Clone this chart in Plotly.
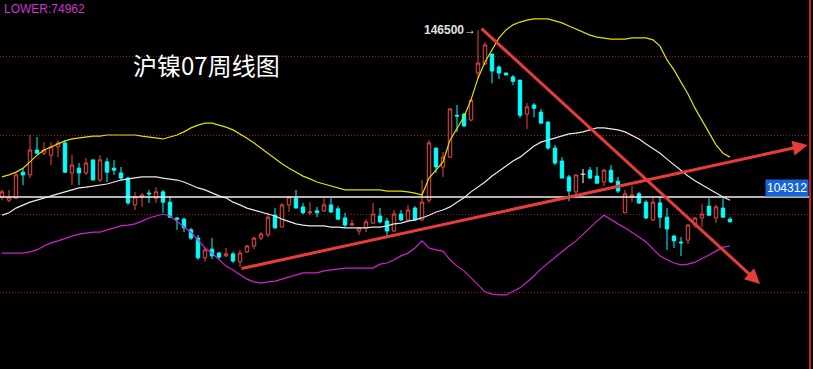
import plotly.graph_objects as go

# ---------------- data (prices) ----------------
open_ = [104300, 103500, 104000, 110600, 109900, 116200, 115400, 114900, 117000, 118000,
         110400, 111600, 110400, 113700, 108600, 113200, 111600, 110400, 109100, 102300,
         104300, 105300, 104000, 105600, 103000, 99000, 98700, 96000, 93900, 88900,
         91100, 90100, 89400, 89900, 87900, 90400, 91900, 93900, 94700, 99700,
         96700, 102300, 104000, 101800, 100300, 100800, 100800, 102300, 101300, 99000,
         97200, 95700, 96500, 97700, 99500, 98200, 95700, 100000, 98500, 101500,
         98500, 103500, 116700, 111900, 114400, 125000, 125300, 123800, 135700, 138000,
         140500, 137200, 135700, 134700, 133900, 125300, 127600, 125800, 123300, 116700,
         113400, 109400, 105600, 110100, 111100, 109600, 108100, 111100, 108300, 100300,
         104300, 105100, 103000, 98500, 102800, 99200, 94400, 92900, 93400, 97200,
         99000, 102000, 99000, 101500, 98700]
high = [106100, 106100, 110400, 111600, 120000, 119500, 118200, 118200, 118700, 118700,
        114900, 112900, 114200, 113700, 114900, 114200, 113700, 111900, 109400, 105600,
        105300, 106100, 106800, 106100, 104300, 99200, 99000, 96500, 94700, 91400,
        93900, 90400, 91400, 90400, 90900, 92200, 94200, 95400, 100300, 101500,
        102800, 104600, 106100, 102800, 103000, 101800, 104000, 104000, 102000, 100300,
        98500, 96700, 98700, 102800, 101500, 99000, 101000, 101000, 102300, 102000,
        108600, 118700, 116700, 115700, 126800, 127600, 125600, 129100, 146500, 143500,
        140500, 137700, 135700, 135200, 133900, 128100, 128100, 126600, 123300, 117500,
        114400, 109900, 109900, 111400, 111900, 111900, 111400, 112400, 109400, 106100,
        107100, 105600, 103500, 104300, 104300, 101500, 94700, 94200, 97500, 99200,
        102500, 104000, 102300, 104000, 99200]
low = [103500, 103000, 103800, 107300, 109100, 115400, 114900, 112400, 114400, 110400,
       107300, 107300, 109900, 108600, 108100, 108100, 109900, 108600, 102300, 101000,
       101800, 102800, 102800, 100300, 99000, 96000, 95400, 93400, 88400, 87900,
       88600, 88600, 89100, 87600, 86600, 90100, 91100, 93400, 94200, 96200,
       96700, 100500, 101500, 100000, 99700, 99200, 100500, 100300, 98500, 96700,
       97000, 94700, 95400, 97500, 97700, 94200, 95400, 98200, 98200, 98200,
       98200, 102800, 110400, 109400, 114200, 120700, 122000, 123500, 134400, 137700,
       133100, 134200, 135200, 132600, 124300, 121500, 124500, 123000, 116200, 112400,
       109100, 103300, 104000, 107800, 108900, 107800, 107100, 107800, 105300, 100300,
       103000, 102500, 98700, 98200, 96500, 90900, 91400, 89400, 92400, 96500,
       96700, 99500, 97700, 99200, 98000]
close = [105600, 104300, 109900, 109900, 116200, 115400, 116200, 117000, 118000, 110600,
         112400, 110400, 112900, 108600, 113700, 110600, 111100, 109100, 102800, 104300,
         104800, 105100, 105600, 103000, 99200, 98700, 96500, 93900, 88900, 90900,
         89400, 89100, 89900, 88100, 90100, 91900, 93900, 94900, 99200, 96500,
         102300, 104300, 101500, 100300, 100500, 100300, 102300, 100500, 98700, 97200,
         97500, 96500, 98000, 100000, 98000, 95700, 100000, 98500, 101000, 98500,
         103000, 118000, 111900, 114400, 126600, 124800, 122300, 128800, 138200, 142800,
         136200, 135700, 135200, 133600, 125000, 127100, 126800, 123000, 116700, 112900,
         109100, 105800, 109900, 110100, 109100, 107800, 111100, 108100, 105800, 105100,
         104800, 102800, 99000, 103000, 99200, 96200, 93200, 92700, 97200, 99000,
         100000, 99700, 101800, 99200, 98000]

upper = [109400, 109900, 110600, 111600, 113200, 114900, 116200, 117000, 117700, 118500,
         119000, 119200, 119500, 119700, 119700, 120000, 120000, 120000, 120000, 120000,
         119700, 119500, 119200, 119000, 119500, 120000, 120800, 121800, 122500, 123000,
         123000, 122500, 122000, 121300, 120300, 119200, 118000, 116700, 115400, 113900,
         112700, 111600, 110600, 109600, 108900, 108100, 107600, 107100, 106600, 106100,
         106100, 106100, 106100, 106100, 106100, 105800, 105800, 105800, 105600, 105300,
         104800, 109100, 111100, 113200, 118700, 121800, 124600, 128900, 134400, 138500,
         141500, 144600, 146600, 147900, 148600, 149100, 149400, 149400, 149400, 148900,
         148400, 147600, 146800, 146100, 145300, 144800, 144600, 144300, 144300, 144300,
         144600, 144600, 144600, 144100, 142500, 139000, 136500, 133400, 130400, 126800,
         123800, 120800, 117500, 115400, 114400]
middle = [99700, 100300, 101500, 102300, 103000, 103500, 104100, 104600, 105100, 105600,
          106100, 106600, 106800, 107100, 107300, 107600, 108100, 108600, 108900, 109100,
          109400, 109400, 109400, 109100, 108900, 108600, 108100, 107300, 106600, 106100,
          105300, 104600, 104100, 103000, 102300, 101500, 101000, 100500, 100000, 99500,
          98700, 98000, 97500, 97200, 97000, 97000, 97000, 96700, 96700, 96500,
          96500, 96500, 96500, 96700, 96700, 97000, 97500, 97700, 98200, 98500,
          99000, 99700, 100500, 101000, 101800, 103000, 104100, 105600, 106800, 108100,
          109600, 110900, 112200, 113400, 114400, 115700, 117200, 118200, 118700, 119200,
          119700, 120300, 120500, 120800, 121300, 121800, 121800, 121500, 121300, 120800,
          120000, 119000, 117700, 116500, 115400, 113900, 112400, 110900, 109600, 108400,
          107300, 106300, 105300, 104300, 103500]
lower = [90100, 90100, 90100, 90100, 90400, 90900, 91900, 92700, 93200, 93900,
         94400, 94900, 95200, 95400, 95400, 95900, 96500, 97000, 97200, 97500,
         98200, 99000, 99500, 100000, 99500, 98200, 96700, 95400, 93400, 91400,
         90100, 88400, 86800, 85800, 84600, 83500, 82800, 82500, 82800, 83000,
         83500, 84000, 84600, 85100, 85100, 85100, 85600, 85800, 86100, 86300,
         86300, 86300, 86300, 86300, 87300, 87600, 88400, 89400, 90100, 91400,
         93200, 91400, 90900, 90600, 88400, 86800, 85600, 83800, 82000, 80300,
         79700, 79500, 79500, 80300, 81300, 82800, 84300, 86100, 87600, 88900,
         90400, 91900, 93200, 94900, 96500, 98200, 99700, 98500, 97500, 96500,
         95400, 94200, 92900, 91100, 89400, 88400, 87600, 87100, 87300, 87800,
         88600, 89600, 90600, 91600, 91900]

doji_index = [83]
grid_levels = [80000, 100000, 120000, 140000]
last_price = 104312
peak_label = "146500→"
lower_label = "LOWER:74962"
title_text = "沪镍07周线图"

# hand-drawn trend arrows (candle index, price)
trend_up_x = [34.0, 115.1]
trend_up_y = [86100, 117500]
trend_down_x = [68.3, 108.3]
trend_down_y = [147300, 82300]

# ---------------- figure ----------------
idx = list(range(len(open_)))
main = [i for i in idx if i not in doji_index]

RED = "#f04545"
CYAN = "#00ffff"

fig = go.Figure()
fig.add_trace(go.Scatter(x=idx, y=upper, mode="lines", line=dict(color="#e0e000", width=1.2), hoverinfo="skip"))
fig.add_trace(go.Scatter(x=idx, y=middle, mode="lines", line=dict(color="#e8e8e8", width=1.2), hoverinfo="skip"))
fig.add_trace(go.Scatter(x=idx, y=lower, mode="lines", line=dict(color="#d020d0", width=1.2), hoverinfo="skip"))

fig.add_trace(go.Candlestick(
    x=[idx[i] for i in main],
    open=[open_[i] for i in main], high=[high[i] for i in main],
    low=[low[i] for i in main], close=[close[i] for i in main],
    increasing=dict(line=dict(color=RED, width=1), fillcolor="#000000"),
    decreasing=dict(line=dict(color=CYAN, width=1), fillcolor=CYAN),
    whiskerwidth=0,
))

# doji (open == close) drawn white
for i in doji_index:
    fig.add_trace(go.Scatter(
        x=[idx[i], idx[i], None, idx[i] - 0.35, idx[i] + 0.35],
        y=[high[i], low[i], None, open_[i], close[i]],
        mode="lines", line=dict(color="#ffffff", width=1), hoverinfo="skip"))

fig.add_hline(y=last_price, line=dict(color="#f0f0f0", width=1.5))

for tx, ty in [(trend_up_x, trend_up_y), (trend_down_x, trend_down_y)]:
    fig.add_annotation(x=tx[1], y=ty[1], ax=tx[0], ay=ty[0], xref="x", yref="y",
                       axref="x", ayref="y", text="", showarrow=True, arrowhead=2,
                       arrowsize=1.0, arrowwidth=3, arrowcolor="#e83c3c", standoff=0)

fig.add_annotation(x=1, y=last_price, xref="paper", yref="y", xanchor="right", yanchor="bottom",
                   text=str(last_price), showarrow=False, bgcolor="#1565d8",
                   font=dict(color="#ffffff", size=12, family="Liberation Sans"),
                   borderpad=1)

fig.add_annotation(x=68, y=max(high), xref="x", yref="y", xanchor="right", yanchor="middle",
                   text="<b>" + peak_label + "</b>", showarrow=False,
                   font=dict(color="#e0e0e0", size=12, family="Liberation Sans"))

fig.add_annotation(x=0.002, y=1.0, xref="paper", yref="paper", xanchor="left", yanchor="top",
                   text=lower_label, showarrow=False,
                   font=dict(color="#d030d0", size=12, family="Liberation Sans"))

fig.add_annotation(x=131 / 809, y=1 - 64 / 369, xref="paper", yref="paper", xanchor="left",
                   yanchor="middle", text=title_text, showarrow=False,
                   font=dict(color="#ffffff", size=24, family="Noto Sans CJK SC"))

fig.update_layout(
    width=813, height=369,
    margin=dict(l=0, r=4, t=0, b=0),
    paper_bgcolor="#000000", plot_bgcolor="#000000",
    showlegend=False,
    xaxis=dict(range=[-2 / 7, 807 / 7], showgrid=False, zeroline=False, showticklabels=False,
               rangeslider=dict(visible=False), fixedrange=True),
    yaxis=dict(range=[60754, 154185], side="right", tickvals=grid_levels, showticklabels=False,
               showgrid=True, gridcolor="#9a1515", griddash="1px,2px", gridwidth=1,
               zeroline=False, showline=True, linecolor="#c81e1e", linewidth=1.5, ticks="",
               fixedrange=True),
)

fig.write_html("out.html", config={"displayModeBar": False},
               post_script="document.body.style.margin='0';document.body.style.background='#000';")
